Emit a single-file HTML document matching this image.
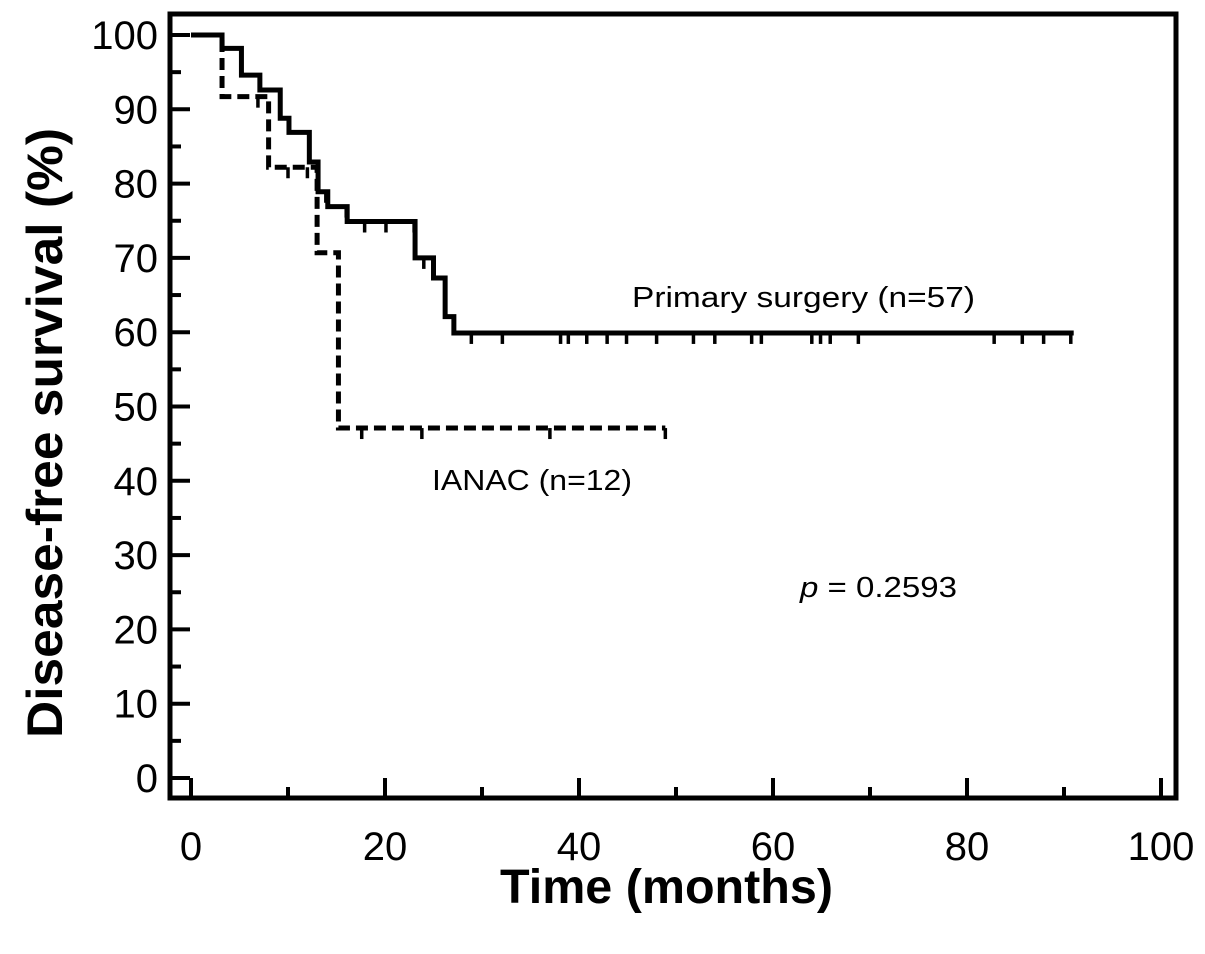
<!DOCTYPE html>
<html><head><meta charset="utf-8"><style>
body{margin:0;background:#fff;}
svg{display:block;font-family:"Liberation Sans",Arial,sans-serif;}
</style></head><body>
<svg id="chart" width="1205" height="954" viewBox="0 0 1205 954">
<g id="axes"></g>
<g id="series"></g>
<text x="500" y="903" font-size="48" font-weight="bold" textLength="333" lengthAdjust="spacingAndGlyphs">Time (months)</text>
<text transform="translate(62,738) rotate(-90)" font-size="50" font-weight="bold" textLength="610" lengthAdjust="spacingAndGlyphs">Disease-free survival (%)</text>
<text x="632" y="307" font-size="29" textLength="343" lengthAdjust="spacingAndGlyphs">Primary surgery (n=57)</text>
<text x="432" y="490" font-size="29" textLength="200" lengthAdjust="spacingAndGlyphs">IANAC (n=12)</text>
<text x="800" y="597" font-size="29" textLength="157" lengthAdjust="spacingAndGlyphs"><tspan font-style="italic">p</tspan> = 0.2593</text>
</svg>
<script>
const xTicks=[0,20,40,60,80,100];
const yTicks=[0,10,20,30,40,50,60,70,80,90,100];
const solidTimes=[0,3.2,5.2,7.1,9.2,10.1,12.2,13.1,14.1,16.1,23.1,25,26.2,27.1];
const solidSurv=[100,98.2,94.6,92.6,88.8,86.9,82.9,78.9,76.9,74.9,70,67.3,62.1,59.9];
const solidEnd=91;
const solidCensor=[13.9,16,17.9,20.1,23,24,28.9,32.1,38.1,38.9,40.8,42.9,44.9,48,51.8,54,57.8,58.8,64,64.9,65.9,68.8,82.8,85.7,87.9,90.7];
const dashTimes=[0,3.2,8,13,15.2];
const dashSurv=[100,91.7,82.2,70.7,47.1];
const dashEnd=48.9;
const dashCensor=[6.9,10,12,17.6,23.8,37,48.9];

const NS='http://www.w3.org/2000/svg';
const X=t=>191+t*9.7;
const Y=s=>778-s*7.43;
const L=170,R=1176,T=14,B=798;
function mk(tag,attrs,parent){const e=document.createElementNS(NS,tag);for(const k in attrs)e.setAttribute(k,attrs[k]);parent.appendChild(e);return e;}
const ax=document.getElementById('axes');
const frame=mk('rect',{x:L,y:T,width:R-L,height:B-T,fill:'none',stroke:'#000','stroke-width':5},ax);


for(let v=0;v<=100;v+=10){
  const major=xTicks.includes(v);
  const tk=mk('line',{x1:X(v),x2:X(v),y1:B,y2:B-(major?20:11),stroke:'#000','stroke-width':4},ax);
  
  
}
xTicks.forEach(v=>{
  const t=mk('text',{x:X(v),y:860,'text-anchor':'middle','font-size':40},ax);t.textContent=v;
  
  
});
for(let v=0;v<=100;v+=5){
  const major=v%10===0;
  const tk=mk('line',{x1:L,x2:L+(major?20:11),y1:Y(v),y2:Y(v),stroke:'#000','stroke-width':4},ax);
  
  
}
yTicks.forEach(v=>{
  const t=mk('text',{x:158,y:Y(v)+14,'text-anchor':'end','font-size':40},ax);t.textContent=v;
  
  
});
function stepPath(ts,ss,end){
  let d='M'+X(ts[0])+','+Y(ss[0]);
  for(let i=1;i<ts.length;i++){d+=' H'+X(ts[i])+' V'+Y(ss[i]);}
  d+=' H'+X(end);return d;
}
function survAt(ts,ss,t){let s=ss[0];for(let i=0;i<ts.length;i++){if(ts[i]<=t)s=ss[i];}return s;}
const sg=document.getElementById('series');
const sp=mk('path',{d:stepPath(solidTimes,solidSurv,solidEnd),fill:'none',stroke:'#000','stroke-width':5},sg);


const dp=mk('path',{d:stepPath(dashTimes,dashSurv,dashEnd),fill:'none',stroke:'#000','stroke-width':5,'stroke-dasharray':'12,6'},sg);


solidCensor.forEach(t=>{
  const y=Y(survAt(solidTimes,solidSurv,t));
  const c=mk('line',{x1:X(t),x2:X(t),y1:y,y2:y+11,stroke:'#000','stroke-width':3.5},sg);
  
  
});
dashCensor.forEach(t=>{
  const y=Y(survAt(dashTimes,dashSurv,t));
  const c=mk('line',{x1:X(t),x2:X(t),y1:y,y2:y+11,stroke:'#000','stroke-width':3.5},sg);
  
  
});
</script>
</body></html>
